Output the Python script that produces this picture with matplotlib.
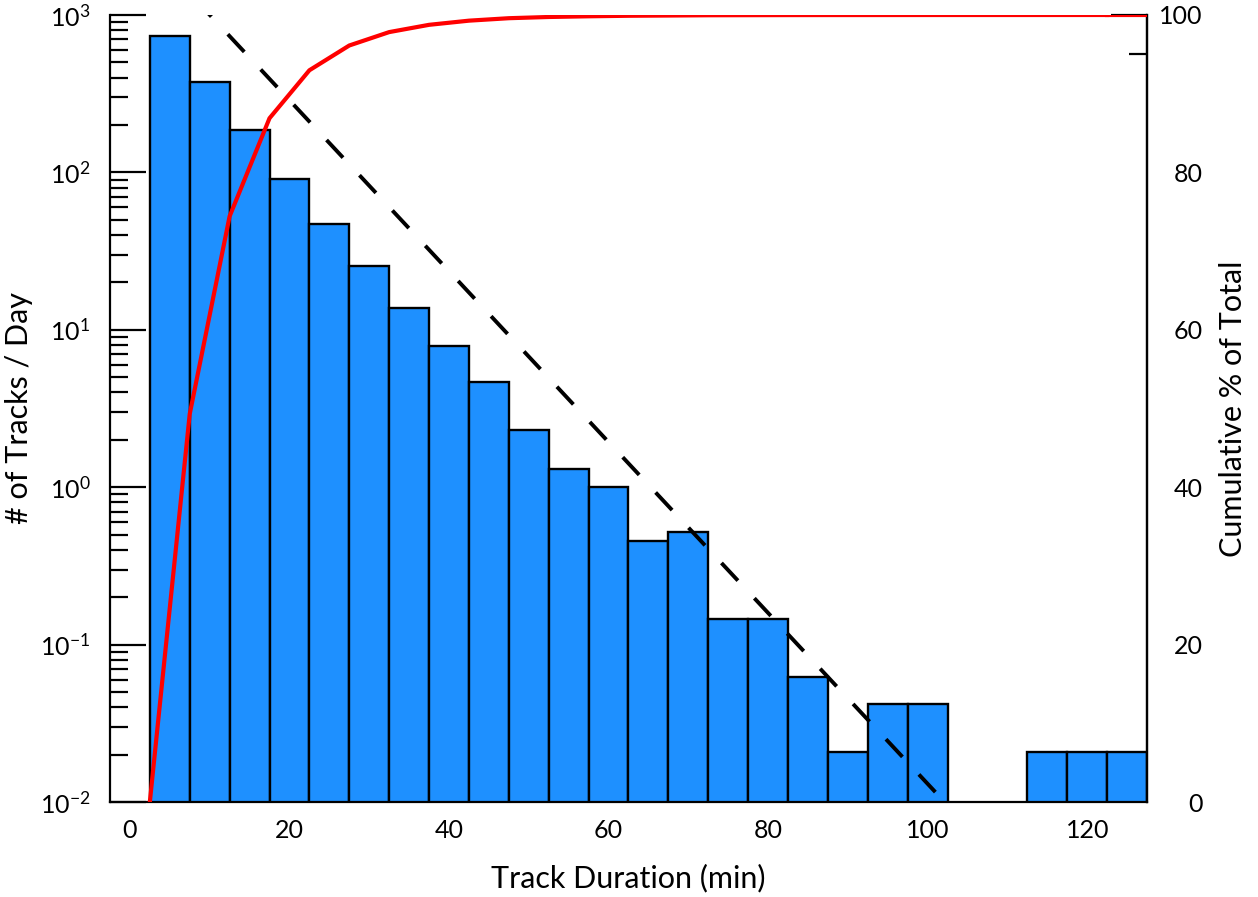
import numpy as np
import matplotlib
matplotlib.use("Agg")
import matplotlib.pyplot as plt

plt.rcParams['font.family'] = ['Lato', 'DejaVu Sans']
plt.rcParams['mathtext.fontset'] = 'custom'
plt.rcParams['mathtext.rm'] = 'Lato'
plt.rcParams['mathtext.it'] = 'Lato:italic'
plt.rcParams['axes.unicode_minus'] = False

# Track duration histogram (5 min bins), tracks per day
bin_centers = [5, 10, 15, 20, 25, 30, 35, 40, 45, 50, 55, 60, 65,
               70, 75, 80, 85, 90, 95, 100, 105, 110, 115, 120, 125]
tracks_per_day = [736, 375, 186, 91, 47, 25.4, 13.8, 7.9, 4.66, 2.31, 1.31, 1.0, 0.458,
                  0.52, 0.146, 0.146, 0.0625, 0.0208, 0.0417, 0.0417, 0, 0, 0.0208, 0.0208, 0.0208]
bin_width = 5

# exponential fit  N = amp * exp(-t / tau)
fit_amp = 3500.0
fit_tau = 8.0

x_ticks = [0, 20, 40, 60, 80, 100, 120]
pct_ticks = [0, 20, 40, 60, 80, 100]

centers = np.array(bin_centers, dtype=float)
counts = np.array(tracks_per_day, dtype=float)
edges = np.append(centers - bin_width / 2, centers[-1] + bin_width / 2)
cum_pct = np.concatenate([[0], np.cumsum(counts) / counts.sum() * 100])

fig = plt.figure(figsize=(12.58, 8.97), dpi=100)
ax = fig.add_axes([0.0874, 0.1059, 0.8244, 0.8774])
ax2 = ax.twinx()

ax.bar(centers, np.where(counts > 0, counts, 1e-5), width=bin_width, color="#1E90FF",
       edgecolor="black", linewidth=1.7, zorder=2)

xfit = np.linspace(0, 127.5, 400)
ax.plot(xfit, fit_amp * np.exp(-xfit / fit_tau), color="black", linewidth=2.8,
        dashes=(6.2, 6.2), zorder=3)

ax2.plot(edges[:-1], cum_pct[:-1], color="#FF0000", linewidth=3.0, zorder=3)
ax2.plot(edges[-2:], [100, 100], color="#FF0000", linewidth=3.0, zorder=3)

ax.set_yscale("log")
ax.set_ylim(1e-2, 1e3)
ax.set_xlim(-2.5, 127.5)
ax2.set_ylim(0, 100)

ax.set_xticks(x_ticks)
ax.tick_params(axis="x", length=0, labelsize=18, pad=12)
ax.tick_params(axis="y", which="major", direction="in", length=26, width=1.6,
               labelsize=18, pad=14)
ax.tick_params(axis="y", which="minor", direction="in", length=13, width=1.6)

ax2.set_yticks(pct_ticks)
ax2.set_yticks([95], minor=True)
ax2.tick_params(axis="y", which="major", direction="in", length=26, width=1.6,
                labelsize=18, pad=40)
ax2.tick_params(axis="y", which="minor", direction="in", length=13, width=1.6)
for lab in ax2.get_yticklabels():
    lab.set_horizontalalignment("right")
for t in ax2.yaxis.get_major_ticks()[:-1]:
    t.tick2line.set_visible(False)

for a in (ax, ax2):
    a.spines["top"].set_visible(False)
    for s in ("left", "right", "bottom"):
        a.spines[s].set_linewidth(1.6)
ax2.spines["left"].set_visible(False)
ax2.spines["bottom"].set_visible(False)

ax.set_xlabel("Track Duration (min)", fontsize=22, labelpad=16)
ax.set_ylabel("# of Tracks / Day", fontsize=22, labelpad=5)
ax2.set_ylabel("Cumulative % of Total", fontsize=22, labelpad=12)

fig.savefig("out.png", dpi=100)
